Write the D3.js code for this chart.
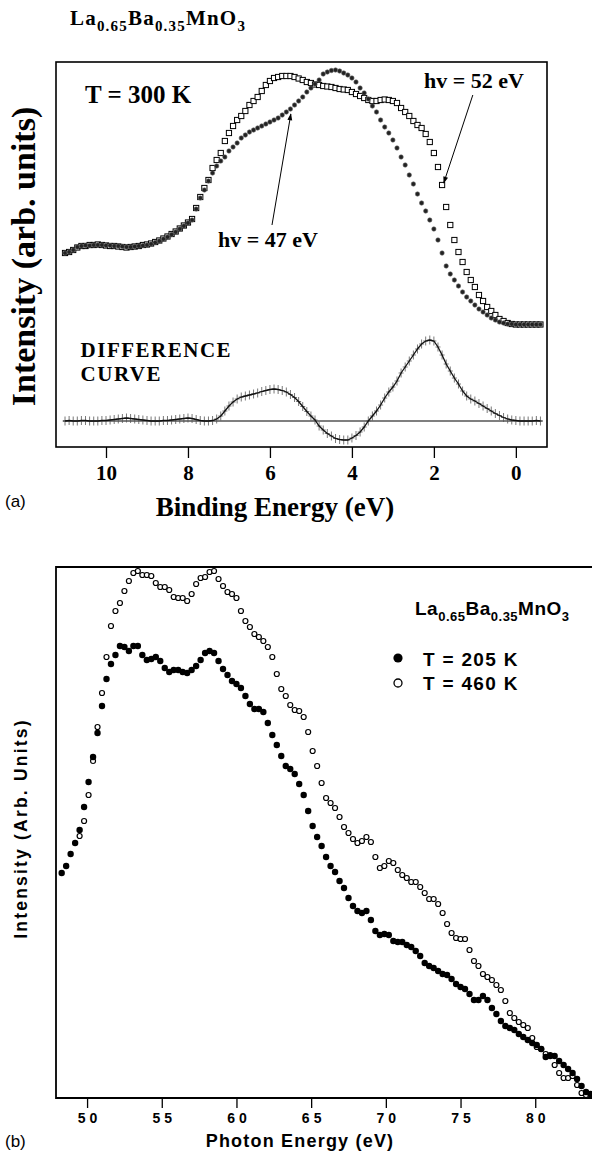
<!DOCTYPE html>
<html><head><meta charset="utf-8">
<script src="https://cdn.jsdelivr.net/npm/d3@7"></script>
<style>body{margin:0;background:#fff} svg{display:block}</style>
</head><body>
<svg id="c" width="592" height="1157"></svg>
<script>
// ---------- Panel (a) data ----------
const aEnergy = [11.0,10.9,10.8,10.7,10.6,10.5,10.4,10.3,10.2,10.1,10.0,9.9,9.8,9.7,9.6,9.5,9.4,9.3,9.2,9.1,9.0,8.9,8.8,8.7,8.6,8.5,8.4,8.3,8.2,8.1,8.0,7.9,7.8,7.7,7.6,7.5,7.4,7.3,7.2,7.1,7.0,6.9,6.8,6.7,6.6,6.5,6.4,6.3,6.2,6.1,6.0,5.9,5.8,5.7,5.6,5.5,5.4,5.3,5.2,5.1,5.0,4.9,4.8,4.7,4.6,4.5,4.4,4.3,4.2,4.1,4.0,3.9,3.8,3.7,3.6,3.5,3.4,3.3,3.2,3.1,3.0,2.9,2.8,2.7,2.6,2.5,2.4,2.3,2.2,2.1,2.0,1.9,1.8,1.7,1.6,1.5,1.4,1.3,1.2,1.1,1.0,0.9,0.8,0.7,0.6,0.5,0.4,0.3,0.2,0.1,0.0,-0.1,-0.2,-0.3,-0.4,-0.5,-0.6];
const aHv47 = [194,195,197,
 200,201,201.5,201.5,202,202,202,201.5,201.5,201,201,200.5,200,200,200.5,201,201.5,202,203,204.5,206,208,210,212.5,215,218,221,224,227,238,
 249,257,266,274,281,286,290,296,300,304,309,312,315,317,319,321,323,325,327,329,332,335,338,342,346,350,355,359,363,367,
 373,375,376.5,377,376,374,372,369,365,359,354,348,341,335,327,320,314,307,299,290,282,272,263,253,244,236,227,218,207,194,
 181,173,167,161,155,150,146,142,138,135,132,129,127,125,124,123,123,122.5,122.5,122.5,122.5,122.5,122.5,122.5];
const aHv52 = [194,195,197,
 199.5,201,201,202,202,202.5,202,201.5,201,201,200.5,200,199.5,200,200.5,201,202,202.5,203.5,205,206.5,208.5,210.5,213,215.5,218.5,221.5,224.5,228,239,
 250,259,267,279,287,294,306,314,321,327,331,336,342,346,350,356,362,366,369,370,371,371,371,370,368.5,367,365,364,362.5,362,
 361,360.5,360,359,358,357.5,357,355,353,351,349,347,346,346,347,347.5,347,346,344,339,335,331,326,322,319,313,305,294,280,262,
 240,222,207,195,185,175,167,160,152,146,140,136,132,128,126,124,123,122.5,122.5,122.5,122.5,122.5,122.5,122.5];
const aDiff = [0,0.5,0,0,0.5,0.5,0,0,0,0.5,
 0.5,1,1.5,2,2.5,3,2.5,2,1.5,1,
 0.5,0,0,0,0.5,0.5,1,1.5,2,2.5,
 3,2.5,1.5,0.5,0,0,0.5,2,5,10,
 15,19,22,24,25,26,27,28,29.5,30.5,
 31.5,32,31.5,30.5,29,26.5,23.5,19.5,14.5,9.5,
 5,1,-5,-9,-12.5,-15,-17.5,-18.5,-19,-19,
 -17,-14.5,-11,-6,0,5,10,16,23,29,
 34,40,48,54,60,66,72,77,80,81,
 80,74,66,57,50,43,37,30,25,22,
 20,17.5,15,12.5,10,7.5,5.5,3.5,2,1,
 0.5,0,0,0,0,0.5,0];
const aDiffZero = 26;            // level of the difference-curve zero line
const aTicks = [10,8,6,4,2,0];

// ---------- Panel (b) data ----------
const bEnergy = [48.3,48.6,48.9,49.2,49.5,49.8,50.1,50.4,50.7,51.0,51.3,51.6,51.9,52.2,52.5,52.8,53.1,53.4,53.7,54.0,54.3,54.6,54.9,55.2,55.5,55.8,56.1,56.4,56.7,57.0,57.3,57.6,57.9,58.2,58.5,58.8,59.1,59.4,59.7,60.0,60.3,60.6,60.9,61.2,61.5,61.8,62.1,62.4,62.7,63.0,63.3,63.6,63.9,64.2,64.5,64.8,65.1,65.4,65.7,66.0,66.3,66.6,66.9,67.2,67.5,67.8,68.1,68.4,68.7,69.0,69.3,69.6,69.9,70.2,70.5,70.8,71.1,71.4,71.7,72.0,72.3,72.6,72.9,73.2,73.5,73.8,74.1,74.4,74.7,75.0,75.3,75.6,75.9,76.2,76.5,76.8,77.1,77.4,77.7,78.0,78.3,78.6,78.9,79.2,79.5,79.8,80.1,80.4,80.7,81.0,81.3,81.6,81.9,82.2,82.5,82.8,83.1,83.4,83.7];
const bT205 = [225,232,244,255,268,291,316,341,365,392,
 419,434,443,452,451,447,452,452,443,438,
 439,441,437,430,426,428,428,426,425,428,
 432,438,445,447,445,437,429,423,417,414,
 410,402,394,389,389,386,375,363,353,342,
 332,329,324,314,303,287,272,261,252,241,
 232,226,217,210,200,192,187,185,187,178,
 167,163,164,163,157,156,156,153,151,147,
 142,135,132,130,127,124,123,119,114,111,
 109,104,98,98,102,98,90,84,77,72,
 70,68,64,61,58,55,53,49,41,42,
 42,37,33,29,25,19,12,6,4];
const bT460 = [null,null,null,null,262,277,303,337,371,405,
 441,472,487,495,507,517,525,527,523,523,
 522,515,511,511,508,501,500,500,497,504,
 514,520,521,526,527,519,512,506,504,500,
 487,477,471,464,461,457,451,441,424,409,
 402,393,388,387,381,366,347,332,315,300,
 295,290,281,271,265,259,255,257,261,256,
 241,230,232,237,235,228,223,220,216,216,
 211,205,199,199,194,185,174,165,160,159,
 159,148,137,132,124,121,118,113,108,97,
 85,80,76,73,70,60,51,49,44,43,
 33,25,20,20,22,13,5,3,null];
const bTicks = [50,55,60,65,70,75,80];

// ---------- drawing ----------
const svg = d3.select("#c");
const serif = "'Liberation Serif','Times New Roman',serif";
const sans = "'Liberation Sans',Arial,sans-serif";

// ===== Panel (a) =====
const ax = d3.scaleLinear().domain([11.22, -0.76]).range([56, 547]);
const ay = d3.scaleLinear().domain([0, 385]).range([447, 62]);

const ga = svg.append("g");
ga.append("rect").attr("x", ax.range()[0]).attr("y", ay.range()[1])
  .attr("width", ax.range()[1]-ax.range()[0]).attr("height", ay.range()[0]-ay.range()[1])
  .attr("fill","none").attr("stroke","#000").attr("stroke-width",1.6);

const axisA = ga.append("g").attr("transform",`translate(0,${ay.range()[0]})`)
  .call(d3.axisBottom(ax).tickValues(aTicks).tickSize(11).tickSizeOuter(0).tickPadding(7).tickFormat(d3.format("d")));
axisA.select(".domain").remove();
axisA.selectAll("line").attr("stroke","#000").attr("stroke-width",1.3);
axisA.selectAll("text").attr("font-family",serif).attr("font-weight","bold").attr("font-size",21).attr("fill","#000");

// zero line of difference curve
ga.append("line").attr("x1",ax(11.05)).attr("x2",ax(-0.65))
  .attr("y1",ay(aDiffZero)).attr("y2",ay(aDiffZero)).attr("stroke","#000").attr("stroke-width",1.1);

// hv = 52 eV open squares
const sq = 5.2;
ga.append("g").selectAll("rect").data(aEnergy.map((e,i)=>[e,aHv52[i]])).join("rect")
  .attr("x",d=>ax(d[0])-sq/2).attr("y",d=>ay(d[1])-sq/2).attr("width",sq).attr("height",sq)
  .attr("fill","#fff").attr("stroke","#000").attr("stroke-width",1);
// hv = 47 eV filled circles
ga.append("g").selectAll("circle").data(aEnergy.map((e,i)=>[e,aHv47[i]])).join("circle")
  .attr("cx",d=>ax(d[0])).attr("cy",d=>ay(d[1])).attr("r",2.2)
  .attr("fill","#222").attr("stroke","#666").attr("stroke-width",0.6);

// difference curve
const diffPts = aEnergy.map((e,i)=>[e,aDiff[i]+aDiffZero]);
ga.append("g").selectAll("path").data(diffPts).join("path")
  .attr("transform",d=>`translate(${ax(d[0])},${ay(d[1])})`)
  .attr("d","M-2.5,0H2.5M0,-4.5V4.5").attr("stroke","#555").attr("stroke-width",0.8).attr("fill","none");
ga.append("path").datum(diffPts)
  .attr("d",d3.line().x(d=>ax(d[0])).y(d=>ay(d[1])))
  .attr("fill","none").attr("stroke","#111").attr("stroke-width",1.3);

// annotations (a)
svg.append("defs").append("marker").attr("id","ah").attr("viewBox","0 0 10 10")
  .attr("refX",9).attr("refY",5).attr("markerWidth",9).attr("markerHeight",7).attr("orient","auto")
  .attr("markerUnits","userSpaceOnUse")
  .append("path").attr("d","M0,1.5L10,5L0,8.5Z").attr("fill","#000");

ga.append("text").attr("x",ax(10.51)).attr("y",ay(344)).text("T = 300 K")
  .attr("font-family",serif).attr("font-weight","bold").attr("font-size",25);
ga.append("text").attr("x",ax(7.27)).attr("y",ay(200)).text("hv = 47 eV")
  .attr("font-family",serif).attr("font-weight","bold").attr("font-size",22);
ga.append("text").attr("x",ax(2.24)).attr("y",ay(359)).text("hv = 52 eV")
  .attr("font-family",serif).attr("font-weight","bold").attr("font-size",22);
ga.append("line").attr("x1",ax(5.95)).attr("y1",ay(222)).attr("x2",ax(5.49)).attr("y2",ay(333))
  .attr("stroke","#000").attr("stroke-width",1).attr("marker-end","url(#ah)");
ga.append("line").attr("x1",ax(1.05)).attr("y1",ay(352)).attr("x2",ax(1.76)).attr("y2",ay(264))
  .attr("stroke","#000").attr("stroke-width",1).attr("marker-end","url(#ah)");
ga.append("text").attr("x",ax(10.62)).attr("y",ay(90)).text("DIFFERENCE")
  .attr("font-family",serif).attr("font-weight","bold").attr("font-size",21).attr("letter-spacing",1.5);
ga.append("text").attr("x",ax(10.62)).attr("y",ay(66)).text("CURVE")
  .attr("font-family",serif).attr("font-weight","bold").attr("font-size",21).attr("letter-spacing",1.5);

// chemical formula with subscripts
function formula(sel, x, y, fam, size, sub, ls){
  const t = sel.append("text").attr("x",x).attr("y",y).attr("font-family",fam)
    .attr("font-weight","bold").attr("font-size",size).attr("letter-spacing",ls||0);
  const parts = [["La",0],["0.65",1],["Ba",0],["0.35",1],["MnO",0],["3",1]];
  let down = false;
  parts.forEach(p=>{
    const ts = t.append("tspan").text(p[0]);
    if(p[1]){ ts.attr("font-size",sub).attr("dy", down?0:size*0.3); down=true; }
    else { ts.attr("dy", down? -size*0.3 : 0); down=false; }
  });
  return t;
}
formula(svg, 70, 25, serif, 21, 15, 1.2);

// y label (a)
svg.append("text").attr("transform",`translate(35,${(ay.range()[0]+ay.range()[1])/2 + 2}) rotate(-90)`)
  .attr("text-anchor","middle").text("Intensity (arb. units)")
  .attr("font-family",serif).attr("font-weight","bold").attr("font-size",34);
// x label (a)
svg.append("text").attr("x",275).attr("y",516).attr("text-anchor","middle").text("Binding Energy (eV)")
  .attr("font-family",serif).attr("font-weight","bold").attr("font-size",27);
svg.append("text").attr("x",5).attr("y",507).text("(a)").attr("font-family",sans).attr("font-size",17);

// ===== Panel (b) =====
const bx = d3.scaleLinear().domain([47.92, 83.8]).range([56, 592]);
const by = d3.scaleLinear().domain([0, 531]).range([1098, 567]);
const gb = svg.append("g");
gb.append("path").attr("d",`M${bx.range()[1]},${by.range()[1]}H${bx.range()[0]}V${by.range()[0]}H${bx.range()[1]}`)
  .attr("fill","none").attr("stroke","#000").attr("stroke-width",1.8);

const axisB = gb.append("g").attr("transform",`translate(0,${by.range()[0]})`)
  .call(d3.axisBottom(bx).tickValues(bTicks).tickSize(10).tickSizeOuter(0).tickPadding(5).tickFormat(d3.format("d")));
axisB.select(".domain").remove();
axisB.selectAll("line").attr("stroke","#000").attr("stroke-width",1.3);
axisB.selectAll("text").attr("font-family",sans).attr("font-weight","bold").attr("font-size",14)
  .attr("letter-spacing",4).attr("dx",2).attr("fill","#000");

gb.append("g").selectAll("circle").data(bEnergy.map((e,i)=>[e,bT460[i]]).filter(d=>d[1]!=null)).join("circle")
  .attr("cx",d=>bx(d[0])).attr("cy",d=>by(d[1])).attr("r",2.5)
  .attr("fill","#fff").attr("stroke","#000").attr("stroke-width",1.2);
gb.append("g").selectAll("circle").data(bEnergy.map((e,i)=>[e,bT205[i]])).join("circle")
  .attr("cx",d=>bx(d[0])).attr("cy",d=>by(d[1])).attr("r",3.2).attr("fill","#000");

// legend (b)
formula(svg, 415, 615, sans, 19, 13, 0.5);
svg.append("circle").attr("cx",398).attr("cy",658).attr("r",4.6).attr("fill","#000");
svg.append("circle").attr("cx",398).attr("cy",683).attr("r",4).attr("fill","#fff").attr("stroke","#000").attr("stroke-width",1.3);
svg.append("text").attr("x",423).attr("y",666).text("T = 205 K").attr("font-family",sans).attr("font-weight","bold").attr("font-size",19).attr("letter-spacing",1.3);
svg.append("text").attr("x",423).attr("y",690).text("T = 460 K").attr("font-family",sans).attr("font-weight","bold").attr("font-size",19).attr("letter-spacing",1.3);

svg.append("text").attr("transform",`translate(27,${(by.range()[0]+by.range()[1])/2 - 4}) rotate(-90)`)
  .attr("text-anchor","middle").text("Intensity (Arb. Units)")
  .attr("font-family",sans).attr("font-weight","bold").attr("font-size",17.5).attr("letter-spacing",2.2);
svg.append("text").attr("x",300).attr("y",1147).attr("text-anchor","middle").text("Photon Energy (eV)")
  .attr("font-family",sans).attr("font-weight","bold").attr("font-size",18).attr("letter-spacing",1.2);
svg.append("text").attr("x",5).attr("y",1147).text("(b)").attr("font-family",sans).attr("font-size",17);
</script>
</body></html>
